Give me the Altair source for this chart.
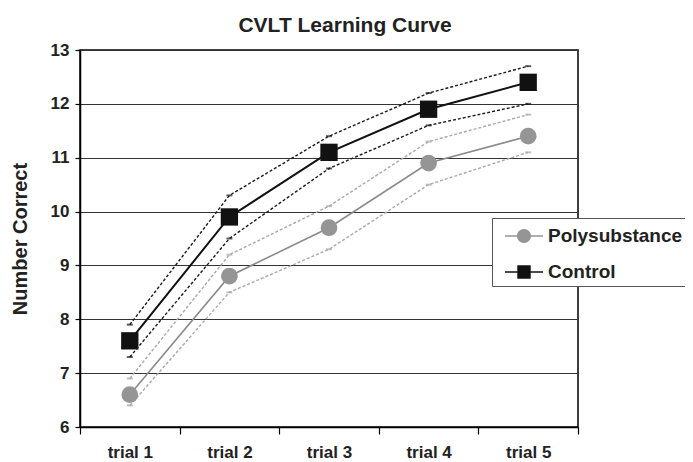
import altair as alt
import pandas as pd

trials = ["trial 1", "trial 2", "trial 3", "trial 4", "trial 5"]
groups = ["Polysubstance", "Control"]

control_mean = [7.6, 9.9, 11.1, 11.9, 12.4]
control_upper = [7.9, 10.3, 11.4, 12.2, 12.7]
control_lower = [7.3, 9.5, 10.8, 11.6, 12.0]
poly_mean = [6.6, 8.8, 9.7, 10.9, 11.4]
poly_upper = [6.9, 9.2, 10.1, 11.3, 11.8]
poly_lower = [6.4, 8.5, 9.3, 10.5, 11.1]

y_ticks = [6, 7, 8, 9, 10, 11, 12, 13]

rows = []
for g, m, u, l in [("Polysubstance", poly_mean, poly_upper, poly_lower),
                   ("Control", control_mean, control_upper, control_lower)]:
    for t, mv, uv, lv in zip(trials, m, u, l):
        rows.append({"trial": t, "group": g, "mean": mv, "upper": uv, "lower": lv})
df = pd.DataFrame(rows)

FONT = "Liberation Sans"

x = alt.X("trial:N", sort=trials,
          scale=alt.Scale(type="band", domain=trials, paddingInner=0, paddingOuter=0),
          axis=alt.Axis(title=None, labelAngle=0, tickBand="extent", tickSize=7,
                        labelPadding=10, grid=False))
yscale = alt.Scale(domain=[6, 13], nice=False, zero=False)

base = alt.Chart(df)

colors = {"Polysubstance": {"ci": "#a8a8a8", "main": "#8a8a8a", "pt": "#959595", "shape": "circle", "size": 280, "w": 1.6},
          "Control": {"ci": "#1a1a1a", "main": "#111111", "pt": "#111111", "shape": "square", "size": 300, "w": 2}}

layers = []
for g in groups:
    c = colors[g]
    sub = base.transform_filter(alt.datum.group == g)
    ci = sub.transform_fold(["upper", "lower"], as_=["bound", "val"])
    layers.append(ci.mark_line(color=c["ci"], strokeDash=[3, 2], strokeWidth=1.4).encode(
        x=x, y=alt.Y("val:Q", scale=yscale), detail="bound:N"))
    layers.append(ci.mark_tick(color=c["ci"], size=6, thickness=2).encode(
        x=x, y=alt.Y("val:Q", scale=yscale)))
for g in groups:
    c = colors[g]
    sub = base.transform_filter(alt.datum.group == g)
    layers.append(sub.mark_line(color=c["main"], strokeWidth=c["w"]).encode(
        x=x, y=alt.Y("mean:Q", scale=yscale)))
    layers.append(sub.mark_point(color=c["pt"], filled=True, opacity=1, shape=c["shape"], size=c["size"]).encode(
        x=x, y=alt.Y("mean:Q", scale=yscale)))

circle_path = ("M-1.36,-0.06H-0.45V0.06H-1.36Z M0.45,-0.06H1.36V0.06H0.45Z "
               "M-0.5,0A0.5,0.5,0,1,1,0.5,0A0.5,0.5,0,1,1,-0.5,0Z")
square_path = ("M-1.36,-0.06H-0.45V0.06H-1.36Z M0.45,-0.06H1.36V0.06H0.45Z "
               "M-0.48,-0.48H0.48V0.48H-0.48Z")

legend_layer = base.mark_point(filled=True, size=0, opacity=1).encode(
    x=x, y=alt.Y("mean:Q", scale=yscale,
                  axis=alt.Axis(title="Number Correct", values=y_ticks, format="d", tickSize=5,
                                labelPadding=6, titlePadding=20, grid=True)),
    color=alt.Color("group:N", scale=alt.Scale(domain=groups, range=["#959595", "#111111"]),
                    legend=alt.Legend(title=None, orient="none", legendX=412, legendY=168,
                                      fillColor="white", strokeColor="#555", padding=4,
                                      symbolOffset=14, labelOffset=10, rowPadding=12,
                                      symbolSize=784, symbolOpacity=1, symbolStrokeWidth=0,
                                      labelFont=FONT, labelFontSize=19, labelFontWeight="bold",
                                      labelColor="#222")),
    shape=alt.Shape("group:N", scale=alt.Scale(domain=groups, range=[circle_path, square_path])),
)

chart = alt.layer(legend_layer, *layers).properties(
    width=498, height=377,
    title=alt.TitleParams("CVLT Learning Curve", font=FONT, fontSize=21, fontWeight="bold",
                          color="#222", anchor="middle", dx=16, offset=5),
    autosize=alt.AutoSizeParams(type="none"),
    padding={"left": 72, "top": 42, "right": 107, "bottom": 35},
).configure_view(stroke="black", strokeWidth=1.5).configure_axis(
    labelFont=FONT, labelFontSize=17, labelFontWeight="bold", labelColor="#222",
    titleFont=FONT, titleFontSize=20, titleFontWeight="bold", titleColor="#222",
    domainColor="black", domainWidth=1.5, tickColor="black", tickWidth=1.2,
    gridColor="#333", gridWidth=1.2, gridOpacity=1,
)

chart.save("out.html", embed_options={"renderer": "svg", "actions": False})
